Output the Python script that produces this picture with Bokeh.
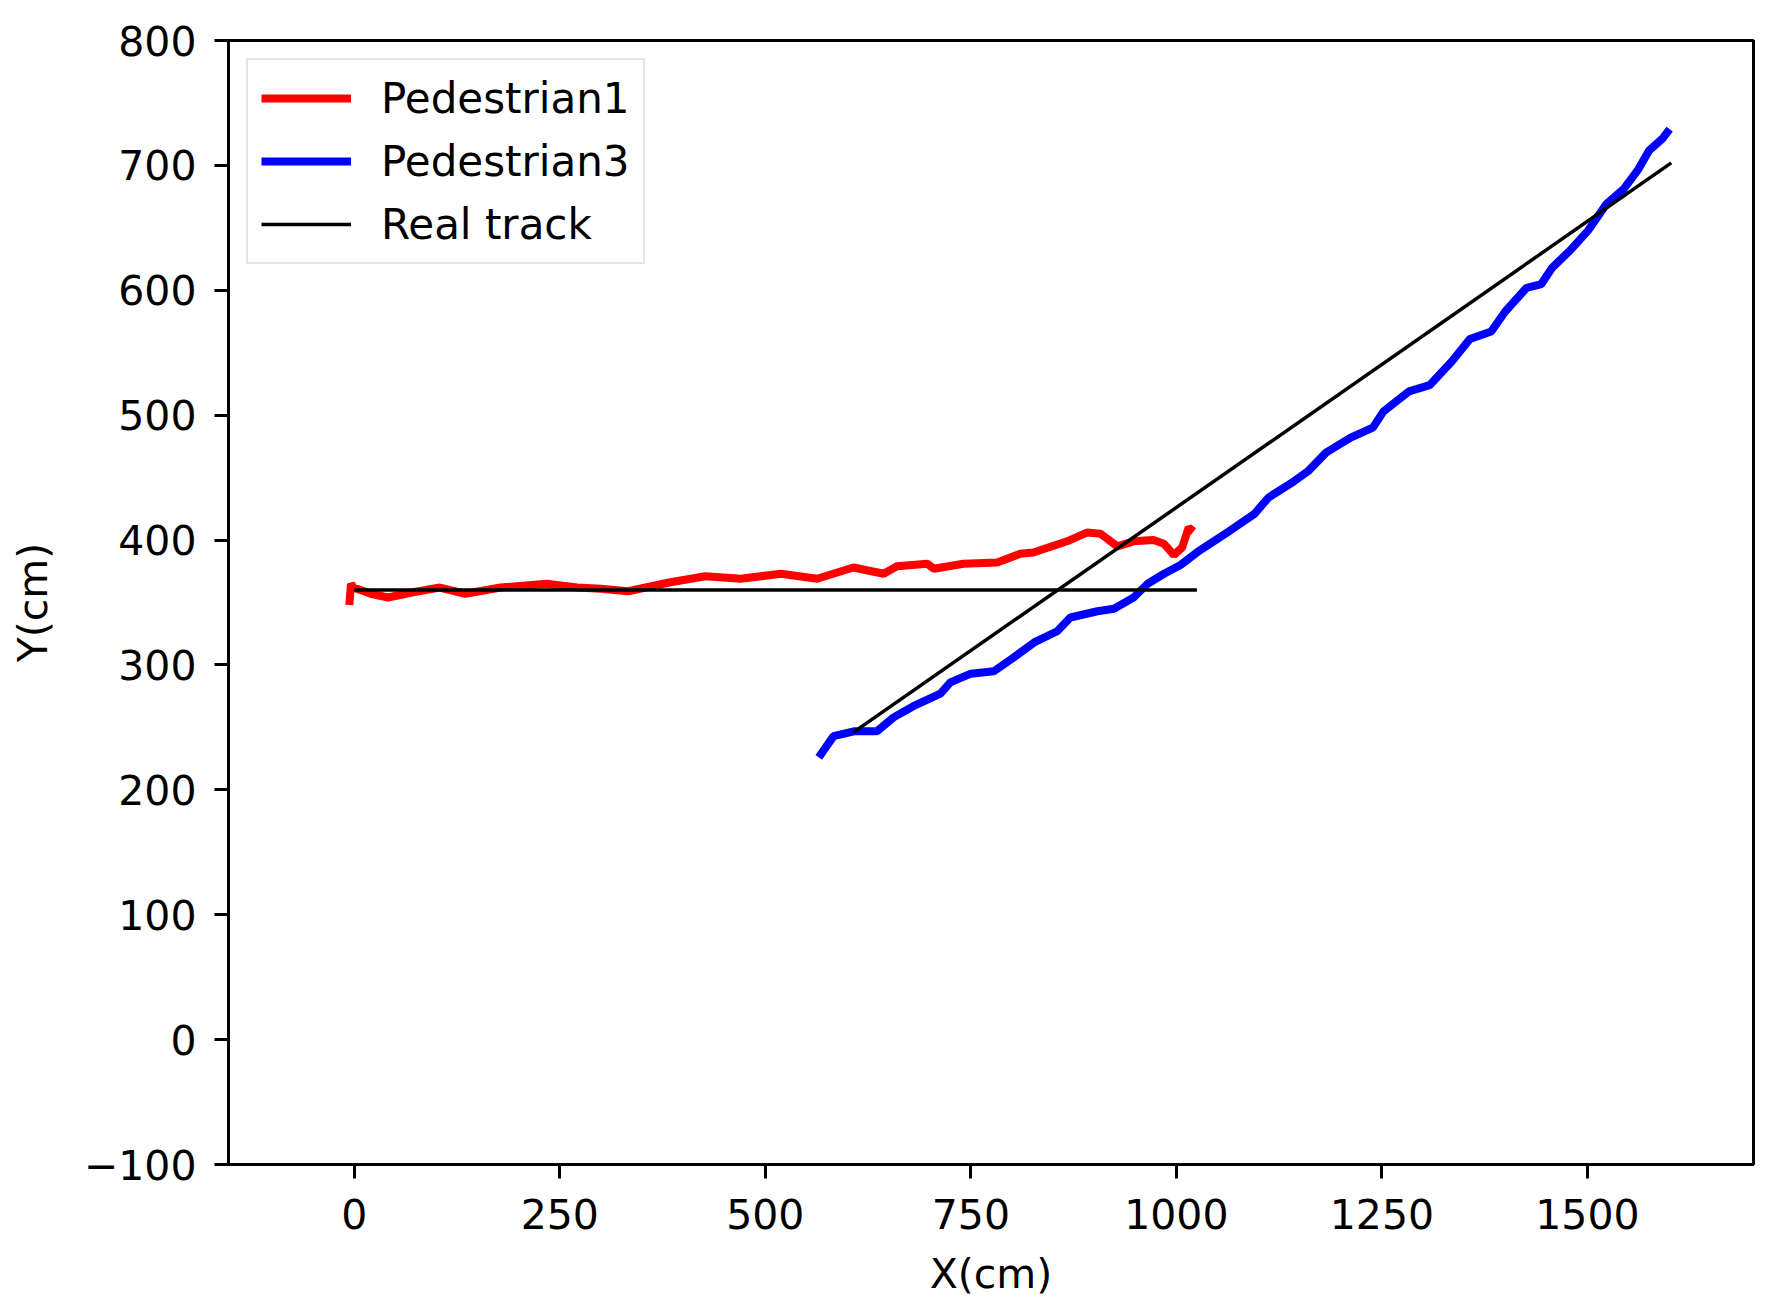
from bokeh.plotting import figure
from bokeh.models import FixedTicker, Legend, LegendItem
from bokeh.embed import file_html
from bokeh.resources import INLINE

# Pedestrian1 estimated track
ped1_x = [-6, -4, -1, 20, 41, 70, 104, 135, 178, 234, 271, 300, 333, 383, 427, 470, 519, 563,
          607, 644, 660, 697, 705, 741, 782, 810, 826, 867, 891, 908, 928, 948, 972, 985, 997,
          1007, 1015, 1021]
ped1_y = [348, 365, 362, 357, 354, 358, 362, 357, 362, 365, 362, 361, 359, 366, 371, 369, 373, 369,
          378, 373, 379, 381, 377, 381, 382, 389, 390, 399, 406, 405, 395, 399, 400, 397, 388,
          394, 410, 407]

# Pedestrian3 estimated track
ped3_x = [565, 583, 609, 636, 656, 680, 713, 725, 750, 778, 802, 827, 855, 871, 904, 924, 948, 965,
          985, 1005, 1029, 1064, 1095, 1112, 1143, 1160, 1182, 1212, 1239, 1252, 1283, 1308, 1335,
          1357, 1383, 1400, 1426, 1444, 1457, 1479, 1501, 1523, 1544, 1561, 1575, 1592, 1600]
ped3_y = [226, 243, 247, 247, 258, 267, 277, 286, 293, 295, 306, 318, 327, 338, 343, 345, 354, 365,
          373, 380, 392, 407, 421, 434, 447, 455, 470, 482, 490, 503, 519, 524, 543,
          561, 567, 583, 602, 605, 618, 632, 648, 669, 681, 696, 712, 722, 729]

# Real tracks (two straight segments)
real_xs = [[0, 1025], [607, 1602]]
real_ys = [[360, 360], [246, 702]]

x_ticks = [0, 250, 500, 750, 1000, 1250, 1500]
y_ticks = [-100, 0, 100, 200, 300, 400, 500, 600, 700, 800]

FONT = "DejaVu Sans"
FS = "41px"

p = figure(frame_width=1525, frame_height=1124,
           x_range=(-153, 1702), y_range=(-100, 800),
           min_border_left=228, min_border_right=15, min_border_top=40, min_border_bottom=134,
           output_backend="svg", toolbar_location=None)

p.background_fill_color = "white"
p.border_fill_color = "white"
p.grid.visible = False
p.outline_line_color = "black"
p.outline_line_width = 3

r1 = p.line(ped1_x, ped1_y, line_color="#ff0000", line_width=8)
r3 = p.line(ped3_x, ped3_y, line_color="#0000ff", line_width=8)
rr = p.multi_line(real_xs, real_ys, line_color="black", line_width=3.5)

legend = Legend(items=[LegendItem(label="Pedestrian1", renderers=[r1]),
                       LegendItem(label="Pedestrian3", renderers=[r3]),
                       LegendItem(label="Real track", renderers=[rr])],
                location="top_left")
legend.margin = 18
legend.padding = 13
legend.spacing = 13
legend.glyph_width = 90
legend.glyph_height = 50
legend.label_height = 50
legend.label_standoff = 30
legend.label_text_font = FONT
legend.label_text_font_size = "42px"
legend.label_text_color = "black"
legend.border_line_color = "#cccccc"
legend.border_line_width = 2
legend.background_fill_color = "white"
legend.background_fill_alpha = 0.8
p.add_layout(legend)

for ax in (p.xaxis[0], p.yaxis[0]):
    ax.axis_line_width = 3
    ax.axis_line_color = "black"
    ax.major_tick_line_width = 3
    ax.major_tick_line_color = "black"
    ax.major_tick_out = 14
    ax.major_tick_in = 0
    ax.minor_tick_out = 0
    ax.minor_tick_in = 0
    ax.major_label_text_font = FONT
    ax.major_label_text_font_size = FS
    ax.major_label_text_color = "black"
    ax.axis_label_text_font = FONT
    ax.axis_label_text_font_size = FS
    ax.axis_label_text_font_style = "normal"
    ax.axis_label_text_color = "black"

p.xaxis[0].ticker = FixedTicker(ticks=x_ticks)
p.yaxis[0].ticker = FixedTicker(ticks=y_ticks)
p.yaxis[0].major_label_overrides = {v: str(v).replace("-", "\u2212") for v in y_ticks}
p.xaxis[0].major_label_standoff = 20
p.yaxis[0].major_label_standoff = 18
p.xaxis[0].axis_label = "X(cm)"
p.yaxis[0].axis_label = "Y(cm)"
p.xaxis[0].axis_label_standoff = 18
p.yaxis[0].axis_label_standoff = 24

open("out.html", "w").write(file_html(p, INLINE))
